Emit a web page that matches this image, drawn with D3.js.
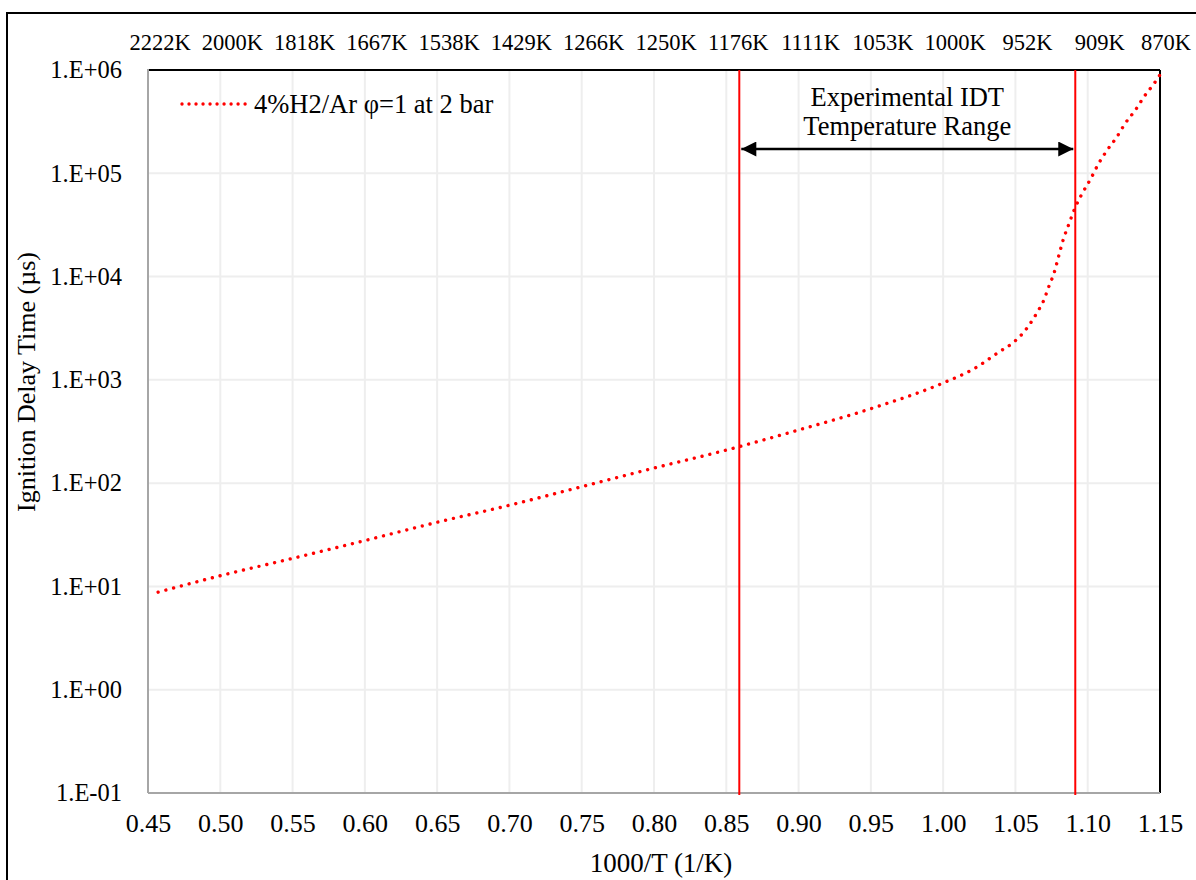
<!DOCTYPE html>
<html>
<head>
<meta charset="utf-8">
<script src="https://cdn.jsdelivr.net/npm/d3@7"></script>
<style>
  body { margin: 0; background: #fff; }
  svg { display: block; font-family: "Liberation Serif", "Times New Roman", serif; }
  .axis text { font-family: "Liberation Serif", "Times New Roman", serif; font-size: 26px; fill: #000; }
  .axis.y text { font-size: 24.5px; }
  .axis path, .axis line { display: none; }
</style>
</head>
<body>
<svg width="1196" height="880"></svg>
<script>
"use strict";

// 1000/T values and ignition delay time (us)
var invT = [0.457, 0.50, 0.55, 0.60, 0.65, 0.70, 0.75, 0.80, 0.85, 0.90, 0.95, 1.00,
            1.021, 1.039, 1.049, 1.057, 1.066, 1.069, 1.073, 1.077, 1.080, 1.083,
            1.087, 1.091, 1.096, 1.102, 1.107, 1.113, 1.120, 1.126, 1.133, 1.139,
            1.146, 1.150];
var idt = [8.8, 12.7, 18.7, 27.8, 41.8, 61.1, 92.4, 140, 209, 327, 526, 933,
           1274, 1875, 2330, 3040, 4740, 5640, 7930, 11150, 15930, 22600,
           32300, 45400, 63100, 88100, 120300, 164000, 223000, 305000, 410000, 552000,
           743000, 900000];

var xTicks = [0.45, 0.50, 0.55, 0.60, 0.65, 0.70, 0.75, 0.80, 0.85, 0.90, 0.95, 1.00, 1.05, 1.10, 1.15];
var yTicks = [0.1, 1, 10, 100, 1000, 10000, 100000, 1000000];
var yLabels = ["1.E-01", "1.E+00", "1.E+01", "1.E+02", "1.E+03", "1.E+04", "1.E+05", "1.E+06"];
var topLabels = ["2222K", "2000K", "1818K", "1667K", "1538K", "1429K", "1266K", "1250K",
                 "1176K", "1111K", "1053K", "1000K", "952K", "909K", "870K"];

var rangeLines = [0.859, 1.0914];
var seriesName = "4%H2/Ar \u03c6=1 at 2 bar";

function drawChart(){

  var svg = d3.select("svg");

  var pLeft = 148, pRight = 1160, pTop = 70, pBottom = 793;

  var xScale = d3.scaleLinear().domain([0.45, 1.15]).range([pLeft, pRight]);
  var yScale = d3.scaleLog().domain([0.1, 1e6]).range([pBottom, pTop]);

  // outer frame
  svg.append("rect")
    .attr("x", 7).attr("y", 13)
    .attr("width", 1210).attr("height", 900)
    .attr("fill", "none")
    .attr("stroke", "#000")
    .attr("stroke-width", 2);

  // grid
  svg.append("g").selectAll("line")
    .data(xTicks.slice(1, -1))
    .enter().append("line")
    .attr("x1", function(d){ return xScale(d); })
    .attr("x2", function(d){ return xScale(d); })
    .attr("y1", pTop).attr("y2", pBottom)
    .attr("stroke", "#eeeeee").attr("stroke-width", 2);

  svg.append("g").selectAll("line")
    .data(yTicks.slice(1, -1))
    .enter().append("line")
    .attr("x1", pLeft).attr("x2", pRight)
    .attr("y1", function(d){ return yScale(d); })
    .attr("y2", function(d){ return yScale(d); })
    .attr("stroke", "#eeeeee").attr("stroke-width", 2);

  // plot frame: grey left/bottom, black top/right
  svg.append("line").attr("x1", pLeft).attr("x2", pRight).attr("y1", pTop).attr("y2", pTop)
    .attr("stroke", "#000").attr("stroke-width", 2);
  svg.append("line").attr("x1", pRight).attr("x2", pRight).attr("y1", pTop).attr("y2", pBottom)
    .attr("stroke", "#000").attr("stroke-width", 2);
  svg.append("line").attr("x1", pLeft).attr("x2", pLeft).attr("y1", pTop - 1).attr("y2", pBottom)
    .attr("stroke", "#a6a6a6").attr("stroke-width", 2);
  svg.append("line").attr("x1", pLeft).attr("x2", pRight).attr("y1", pBottom).attr("y2", pBottom)
    .attr("stroke", "#a6a6a6").attr("stroke-width", 2);

  // axes
  svg.append("g")
    .attr("class", "axis x")
    .attr("transform", "translate(0," + pBottom + ")")
    .call(d3.axisBottom(xScale).tickValues(xTicks).tickSize(0).tickPadding(21)
          .tickFormat(d3.format(".2f")));

  svg.append("g")
    .attr("class", "axis y")
    .attr("transform", "translate(" + pLeft + ",0)")
    .call(d3.axisLeft(yScale).tickValues(yTicks).tickSize(0).tickPadding(26)
          .tickFormat(function(d, i){ return yLabels[i]; }));

  svg.selectAll(".axis").attr("font-family", null).attr("font-size", null);

  // top temperature labels
  svg.append("g").selectAll("text")
    .data(xTicks)
    .enter().append("text")
    .attr("x", function(d){ return Math.min(xScale(d) + 12, 1166); })
    .attr("y", 50)
    .attr("text-anchor", "middle")
    .style("font-size", "22.5px")
    .text(function(d, i){ return topLabels[i]; });

  // axis titles
  svg.append("text")
    .attr("x", 661).attr("y", 872)
    .attr("text-anchor", "middle")
    .style("font-size", "27px")
    .text("1000/T (1/K)");

  svg.append("text")
    .attr("transform", "translate(35,382) rotate(-90)")
    .attr("text-anchor", "middle")
    .style("font-size", "26px")
    .text("Ignition Delay Time (\u00b5s)");

  // experimental range lines
  svg.append("g").selectAll("line")
    .data(rangeLines)
    .enter().append("line")
    .attr("x1", function(d){ return xScale(d); })
    .attr("x2", function(d){ return xScale(d); })
    .attr("y1", pTop).attr("y2", pBottom + 2)
    .attr("stroke", "#ff0000").attr("stroke-width", 2);

  // double arrow
  var defs = svg.append("defs");
  defs.append("marker")
    .attr("id", "arrow")
    .attr("viewBox", "0 0 10 10")
    .attr("refX", 10).attr("refY", 5)
    .attr("markerWidth", 7).attr("markerHeight", 6)
    .attr("markerUnits", "strokeWidth")
    .attr("orient", "auto-start-reverse")
    .append("path")
    .attr("d", "M0,0 L10,5 L0,10 Z")
    .attr("fill", "#000");

  svg.append("line")
    .attr("x1", xScale(rangeLines[0]) + 2).attr("x2", xScale(rangeLines[1]) - 2)
    .attr("y1", 149).attr("y2", 149)
    .attr("stroke", "#000").attr("stroke-width", 2.5)
    .attr("marker-start", "url(#arrow)")
    .attr("marker-end", "url(#arrow)");

  var midX = (xScale(rangeLines[0]) + xScale(rangeLines[1])) / 2;
  svg.append("text").attr("x", midX).attr("y", 106)
    .attr("text-anchor", "middle").style("font-size", "26.5px")
    .text("Experimental IDT");
  svg.append("text").attr("x", midX).attr("y", 135)
    .attr("text-anchor", "middle").style("font-size", "26.5px")
    .text("Temperature Range");

  // series
  var data = invT.map(function(d, i){ return {x: d, y: idt[i]}; });

  var line = d3.line()
    .x(function(d){ return xScale(d.x); })
    .y(function(d){ return yScale(d.y); })
    .curve(d3.curveMonotoneX);

  svg.append("path")
    .attr("d", line(data))
    .attr("fill", "none")
    .attr("stroke", "#ff0000")
    .attr("stroke-width", 3.4)
    .attr("stroke-linecap", "round")
    .attr("stroke-dasharray", "0.01 8");

  // legend
  svg.append("line")
    .attr("x1", 182).attr("x2", 248)
    .attr("y1", 104).attr("y2", 104)
    .attr("stroke", "#ff0000")
    .attr("stroke-width", 3.4)
    .attr("stroke-linecap", "round")
    .attr("stroke-dasharray", "0.01 7");

  svg.append("text")
    .attr("x", 254).attr("y", 113)
    .style("font-size", "26.5px")
    .text(seriesName);
}

drawChart();
</script>
</body>
</html>
